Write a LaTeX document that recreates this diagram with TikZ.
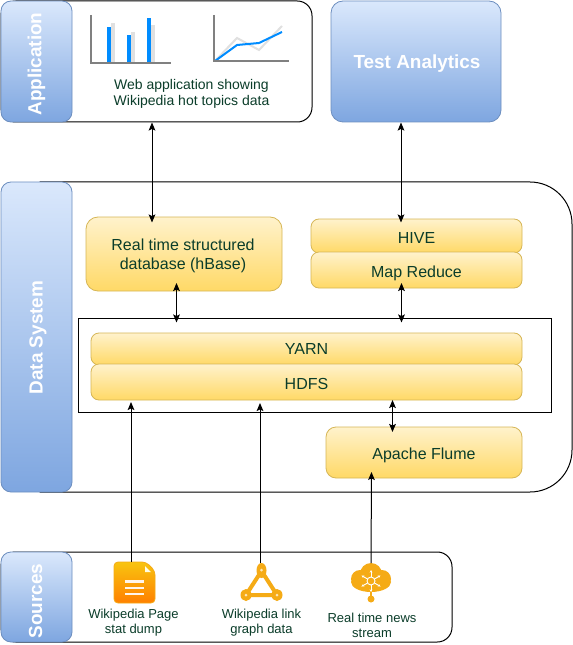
\documentclass[tikz,border=0pt]{standalone}
\usepackage{fontspec}
\setmainfont{Liberation Sans}
\usetikzlibrary{arrows.meta}
\definecolor{txt}{HTML}{0B3D2A}
\definecolor{bluetop}{HTML}{DAE8FC}
\definecolor{bluebot}{HTML}{7EA6E0}
\definecolor{bluedraw}{HTML}{6C8EBF}
\definecolor{yeltop}{HTML}{FFF2CC}
\definecolor{yelbot}{HTML}{FFD966}
\definecolor{yeldraw}{HTML}{D6B656}
\definecolor{ico}{HTML}{F5AB16}
\definecolor{axisgrey}{HTML}{808080}
\definecolor{bargrey}{HTML}{E0E0E0}
\definecolor{barblue}{HTML}{008CFF}
\def\pxu{0.75pt}
\newcommand{\dn}[1]{\raisebox{-5.3pt}[0pt][0pt]{#1}}
\tikzset{
  x=0.75pt,y=-0.75pt,
  panel/.style={draw=black,line width=0.75pt,fill=white,rounded corners=#1},
  box/.style n args={2}{minimum width=#1*\pxu,minimum height=#2*\pxu,inner sep=0pt,outer sep=0pt,align=center},
  bluebox/.style={draw=bluedraw,line width=0.6pt,top color=bluetop,bottom color=bluebot,rounded corners=7.5pt},
  yelbox/.style={draw=yeldraw,line width=0.6pt,top color=yeltop,bottom color=yelbot,text=txt,font=\fontsize{12pt}{14.4pt}\selectfont},
  sidetext/.style={text=white,font=\bfseries\fontsize{14.2pt}{16pt}\selectfont,rotate=90},
  lab/.style={text=txt,align=center,inner sep=0pt,font=\fontsize{10.5pt}{12.2pt}\selectfont},
  smalllab/.style={text=txt,align=center,inner sep=0pt,font=\fontsize{9.75pt}{11.6pt}\selectfont},
  link/.style={draw=black,line width=0.75pt,{Stealth[length=6pt,width=5pt,inset=1.2pt]}-{Stealth[length=6pt,width=5pt,inset=1.2pt]}},
  uplink/.style={draw=black,line width=0.75pt,-{Stealth[length=6pt,width=5pt,inset=1.2pt]}},
  axisline/.style={draw=axisgrey,line width=1.4pt},
  barb/.style={fill=barblue,draw=none},
  barg/.style={fill=bargrey,draw=none}
}
\begin{document}
\begin{tikzpicture}
\useasboundingbox (0,0) rectangle (573,645);
% Application panel
\node[panel=11pt,box={311}{121},anchor=center] (apppanel) at (156.5,61.5) {};
\node[bluebox,box={71}{121}] (appside) at (36.5,61.5) {};
\node[sidetext] (apptext) at (36.5,64) {Application};
% bar chart
\fill[barg] (111,23) rectangle (115,63);
\fill[barg] (131,32) rectangle (135,63);
\fill[barg] (151,25) rectangle (155,63);
\fill[barb] (107,27) rectangle (111,63);
\fill[barb] (127,35) rectangle (131,63);
\fill[barb] (147,18) rectangle (151,63);
\draw[axisline] (91,15) -- (91,63) -- (171,63);
% line chart
\draw[draw=bargrey,line width=1.5pt] (215,61) -- (237,38) -- (259,50) -- (282,26);
\draw[draw=barblue,line width=1.5pt] (215,61) -- (237,45) -- (259,43) -- (282,32);
\draw[axisline] (214,15) -- (214,61) -- (289,61);
\node[lab] (applab) at (191.5,94) {Web application showing\\Wikipedia hot topics data};
% Test analytics
\node[bluebox,rounded corners=9pt,box={170}{121},text=white,font=\bfseries\fontsize{14.2pt}{16pt}\selectfont] (test) at (416,61.5) {\raisebox{-5.3pt}[0pt][0pt]{\hspace*{1.5pt}Test Analytics}};
% Data System
\draw[draw=black,line width=0.75pt,fill=white] (40,182) -- (530,182) arc[start angle=-90,end angle=0,radius=42] -- (572,450) arc[start angle=0,end angle=90,radius=42] -- (40,492) -- cycle;
\node[bluebox,box={71}{310}] (dataside) at (36.5,337) {};
\node[sidetext] (datatext) at (38,337.5) {Data System};
% Layer frame
\node[draw=black,line width=0.75pt,fill=white,box={473}{94}] (frame) at (314.5,365) {};
% boxes
\node[yelbox,rounded corners=9pt,box={196}{74}] (hbase) at (184,254) {\raisebox{2.5pt}[0pt][0pt]{\begin{tabular}[t]{@{}c@{}}Real time structured\\database (hBase)\end{tabular}\hspace*{1.5pt}}};
\node[yelbox,rounded corners=6pt,box={211}{34}] (hive) at (416.5,236) {\dn{HIVE}};
\node[yelbox,rounded corners=6pt,box={211}{36}] (mapred) at (416.5,270) {\dn{Map Reduce}};
\node[yelbox,rounded corners=6pt,box={431}{32}] (yarn) at (306.5,349) {\raisebox{-4pt}[0pt][0pt]{YARN}};
\node[yelbox,rounded corners=6pt,box={431}{36}] (hdfs) at (306.5,382) {\dn{HDFS}};
\node[yelbox,rounded corners=7.5pt,box={196}{51}] (flume) at (424,452.5) {\dn{Apache Flume}};
% Sources
\node[panel=11pt,box={451}{90}] (srcpanel) at (226.5,597) {};
\node[bluebox,box={71}{90}] (srcside) at (36.5,597) {};
\node[sidetext] (srctext) at (35.5,601) {Sources};
% doc icon
\shade[top color=ico!70!yellow,bottom color=orange,draw=ico,line width=0.6pt,rounded corners=3pt] (114,562) -- (146,562) -- (155,571) -- (155,603) -- (114,603) -- cycle;
\fill[white!90!yellow] (145,566) -- (145,572) -- (151,572) -- cycle;
\draw[white!92!orange,line width=1.8pt] (125,581.5) -- (144,581.5) (125,588) -- (144,588) (125,594) -- (144,594);
\coordinate (docin) at (131,562);
\node[smalllab] (doclab) at (133.5,622.5) {Wikipedia Page\\stat dump};
% graph icon
\draw[ico,line width=3pt,line join=round] (261.5,571) -- (277,595) -- (246,595) -- cycle;
\fill[ico] (261.5,570.5) ellipse[x radius=5,y radius=7.5];
\fill[ico] (246,595) ellipse[x radius=5.5,y radius=6];
\fill[ico] (277,595) ellipse[x radius=5.5,y radius=6];
\fill[white!70!ico] (261.5,570) circle[radius=1.5] (246,595) circle[radius=1.5] (277,595) circle[radius=1.5];
\coordinate (graphin) at (260,563);
\node[smalllab] (graphlab) at (261.5,622.5) {Wikipedia link\\graph data};
% cloud icon
\fill[ico] (371,574) circle[radius=11] (360,579) circle[radius=9] (382,579) circle[radius=9] (371,582) ellipse[x radius=20,y radius=10];
\draw[ico,line width=1.2pt] (371,590) -- (371,599);
\fill[ico] (371,599) circle[radius=3.5];
\draw[white,line width=0.7pt] (371,581) circle[radius=4];
\foreach \a in {30,90,150,210,270,330}{
  \draw[white,line width=0.7pt,-{Stealth[length=2pt,width=2pt]}] (371,581) ++(\a:4) -- ++(\a:7);
}
\coordinate (cloudin) at (371,563);
\node[smalllab] (cloudlab) at (372,625.5) {Real time news\\stream};
% anchors
\coordinate (a1) at (152,122.5);
\coordinate (a2) at (152,222.5);
\coordinate (b1) at (401,122.5);
\coordinate (b2) at (401,222.5);
\coordinate (c1) at (176.5,283);
\coordinate (c2) at (176.5,322.5);
\coordinate (d1) at (401.5,283);
\coordinate (d2) at (401.5,322.5);
\coordinate (e1) at (392.5,400);
\coordinate (e2) at (392.5,432);
\coordinate (f) at (131,402);
\coordinate (g) at (260,403);
\coordinate (h) at (371.5,472);
% connectors
\draw[link] (a1) -- (a2);
\draw[link] (b1) -- (b2);
\draw[link] (c1) -- (c2);
\draw[link] (d1) -- (d2);
\draw[link] (e1) -- (e2);
\draw[uplink] (docin) -- (f);
\draw[uplink] (graphin) -- (g);
\draw[uplink] (cloudin) -- (h);
\end{tikzpicture}
\end{document}
